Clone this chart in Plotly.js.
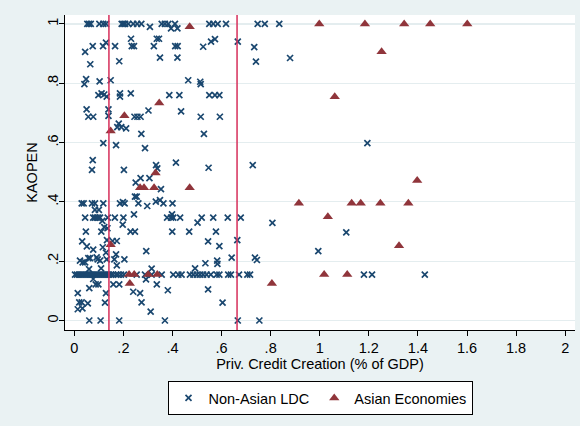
<!DOCTYPE html>
<html>
<head>
<meta charset="utf-8">
<script src="https://cdn.plot.ly/plotly-3.0.1.min.js"></script>
<style>
  html, body { margin: 0; padding: 0; background: #EAF2F3; }
  #chart { width: 580px; height: 426px; }
</style>
</head>
<body>
<div id="chart"></div>
<script>
// Private credit creation (% of GDP) vs. capital account openness (KAOPEN)

// Non-Asian developing countries
const nonAsianCredit = [
  // KAOPEN = 1 row
  0.053, 0.060, 0.067, 0.102, 0.118, 0.129, 0.193, 0.200, 0.207, 0.220, 0.240, 0.256, 0.273,
  0.356, 0.369, 0.383, 0.410, 0.550, 0.566, 0.584, 0.618, 0.747, 0.776, 0.835,
  0.308, 0.394, 0.420,
  // 0.86 - 0.95
  0.044, 0.075, 0.117, 0.129, 0.166, 0.231, 0.234, 0.243, 0.324, 0.336, 0.345, 0.411, 0.421,
  0.525, 0.557, 0.573, 0.666, 0.733,
  0.065, 0.183, 0.349, 0.420, 0.740, 0.879,
  // 0.75 - 0.82
  0.048, 0.041, 0.103, 0.148, 0.464, 0.513, 0.515,
  0.098, 0.111, 0.122, 0.132, 0.186, 0.186, 0.230, 0.387, 0.428, 0.550, 0.573, 0.591,
  // 0.68 - 0.72
  0.050, 0.139, 0.057, 0.077, 0.139, 0.245, 0.257, 0.270, 0.302, 0.435, 0.515, 0.593,
  // 0.5 - 0.67
  0.181, 0.175, 0.191, 0.211, 0.273, 0.528,
  0.118, 0.170, 0.288, 1.194,
  0.075, 0.414, 0.333, 0.338, 0.547, 0.072, 0.202, 0.727,
  // 0.4 - 0.49
  0.270, 0.306, 0.250, 0.353, 0.247, 0.254,
  0.030, 0.038, 0.072, 0.084, 0.118, 0.186, 0.198, 0.205, 0.261, 0.297, 0.332, 0.349, 0.363, 0.400,
  // 0.33 - 0.38
  0.084, 0.100, 0.243, 0.398,
  0.044, 0.077, 0.084, 0.091, 0.098, 0.105, 0.136, 0.165, 0.200, 0.378, 0.394, 0.403, 0.431,
  0.519, 0.566, 0.625, 0.678,
  0.114, 0.197, 0.122, 0.135, 0.502, 0.807, 1.108, 0.994,
  // 0.22 - 0.30
  0.047, 0.110, 0.229, 0.247, 0.399, 0.468, 0.577,
  0.032, 0.133, 0.156, 0.173, 0.545, 0.664,
  0.051, 0.116, 0.591, 0.077, 0.293, 0.129, 0.170,
  // 0.17 - 0.21
  0.023, 0.034, 0.044, 0.057, 0.064, 0.091, 0.095, 0.105, 0.132, 0.163, 0.204,
  0.641, 0.582, 0.583, 0.534, 0.736, 0.744,
  0.173, 0.109, 0.060, 0.315, 0.492,
  // KAOPEN ~ 0.155 row
  0.003, 0.011, 0.019, 0.027, 0.035, 0.044, 0.052, 0.060, 0.068, 0.076, 0.084, 0.092,
  0.101, 0.109, 0.117, 0.125, 0.133, 0.141, 0.149, 0.158, 0.170, 0.178, 0.190, 0.202,
  0.254, 0.288, 0.315, 0.356, 0.403, 0.424, 0.437, 0.471, 0.485, 0.499, 0.512, 0.525,
  0.539, 0.556, 0.580, 0.591, 0.627, 0.638, 0.671, 0.705, 0.716, 1.180, 1.213, 1.428,
  // below 0.15
  0.077, 0.087, 0.098, 0.061, 0.159, 0.183, 0.292, 0.336, 0.240, 0.268, 0.014, 0.129,
  0.381, 0.545, 0.274, 0.020, 0.030, 0.055, 0.125, 0.604, 0.014, 0.033, 0.311,
  0.061, 0.107, 0.183, 0.369, 0.666, 0.754
];
const nonAsianKaopen = [
  1, 1, 1, 1, 1, 1, 1, 1, 1, 1, 1, 1, 1,
  1, 1, 1, 1, 1, 1, 1, 1, 1, 1, 1,
  0.990, 0.985, 0.985,
  0.906, 0.925, 0.925, 0.937, 0.925, 0.950, 0.925, 0.925, 0.925, 0.950, 0.950, 0.925, 0.925,
  0.923, 0.940, 0.949, 0.940, 0.922,
  0.864, 0.874, 0.886, 0.886, 0.873, 0.885,
  0.814, 0.797, 0.806, 0.810, 0.810, 0.805, 0.797,
  0.760, 0.766, 0.762, 0.755, 0.766, 0.755, 0.766, 0.760, 0.760, 0.760, 0.760, 0.760,
  0.712, 0.712, 0.687, 0.687, 0.690, 0.687, 0.687, 0.687, 0.708, 0.705, 0.687, 0.687,
  0.664, 0.652, 0.652, 0.648, 0.629, 0.629,
  0.598, 0.591, 0.581, 0.598,
  0.541, 0.532, 0.524, 0.513, 0.515, 0.508, 0.508, 0.524,
  0.480, 0.480, 0.465, 0.443, 0.418, 0.418,
  0.395, 0.395, 0.395, 0.395, 0.395, 0.395, 0.399, 0.395, 0.395, 0.386, 0.401, 0.406, 0.395, 0.395,
  0.373, 0.373, 0.358, 0.358,
  0.347, 0.347, 0.347, 0.347, 0.347, 0.347, 0.347, 0.347, 0.347, 0.347, 0.347, 0.347, 0.347,
  0.347, 0.347, 0.347, 0.347,
  0.336, 0.323, 0.315, 0.311, 0.330, 0.329, 0.297, 0.234,
  0.300, 0.300, 0.300, 0.300, 0.300, 0.300, 0.300,
  0.267, 0.271, 0.268, 0.268, 0.267, 0.271,
  0.250, 0.247, 0.251, 0.239, 0.234, 0.229, 0.223,
  0.202, 0.196, 0.196, 0.210, 0.210, 0.213, 0.206, 0.202, 0.206, 0.206, 0.206,
  0.212, 0.202, 0.191, 0.193, 0.212, 0.204,
  0.186, 0.176, 0.173, 0.175, 0.176,
  0.155, 0.155, 0.155, 0.155, 0.155, 0.155, 0.155, 0.155, 0.155, 0.155, 0.155, 0.155,
  0.155, 0.155, 0.155, 0.155, 0.155, 0.155, 0.155, 0.155, 0.155, 0.155, 0.155, 0.155,
  0.155, 0.155, 0.155, 0.155, 0.155, 0.155, 0.155, 0.155, 0.155, 0.155, 0.155, 0.155,
  0.155, 0.155, 0.155, 0.155, 0.155, 0.155, 0.155, 0.155, 0.155, 0.155, 0.155, 0.155,
  0.140, 0.122, 0.122, 0.109, 0.122, 0.122, 0.139, 0.122, 0.097, 0.092, 0.092, 0.092,
  0.102, 0.105, 0.061, 0.061, 0.061, 0.058, 0.060, 0.060, 0.038, 0.041, 0.030,
  0, 0, 0, 0, 0, 0
];

// Asian economies
const asianCredit = [
  0.470, 0.998, 1.184, 1.344, 1.450, 1.601,
  1.252, 1.061, 0.346, 0.204, 0.148, 0.331,
  0.268, 0.284, 0.325, 0.470, 1.397,
  0.915, 1.130, 1.167, 1.247, 1.361,
  1.033, 1.323, 0.148,
  0.223, 0.244, 0.301, 0.338, 1.018, 1.112,
  0.805, 0.226
];
const asianKaopen = [
  0.990, 1, 1, 1, 1, 1,
  0.906, 0.754, 0.733, 0.690, 0.639, 0.497,
  0.448, 0.448, 0.448, 0.448, 0.472,
  0.395, 0.395, 0.395, 0.395, 0.395,
  0.350, 0.252, 0.255,
  0.155, 0.155, 0.155, 0.155, 0.155, 0.155,
  0.125, 0.125
];

// Reference levels of private credit creation
const creditThresholds = [0.141, 0.663];

// Axis ticks
const xTickVals = [0, 0.2, 0.4, 0.6, 0.8, 1, 1.2, 1.4, 1.6, 1.8, 2];
const xTickText = ['0', '.2', '.4', '.6', '.8', '1', '1.2', '1.4', '1.6', '1.8', '2'];
const yTickVals = [0, 0.2, 0.4, 0.6, 0.8, 1];
const yTickText = ['0', '.2', '.4', '.6', '.8', '1'];

const seriesNames = ['Non-Asian LDC', 'Asian Economies'];

const FONT = 'Liberation Sans, Arial, Helvetica, sans-serif';
const NAVY = '#1A476F';
const MAROON = '#90353B';
const LINE_RED = '#D62E5A';

const traces = [
  {
    type: 'scatter', mode: 'markers', name: seriesNames[0],
    x: nonAsianCredit, y: nonAsianKaopen,
    marker: { symbol: 'x-thin', size: 6, color: NAVY, line: { color: NAVY, width: 1.7 } },
    hoverinfo: 'x+y'
  },
  {
    type: 'scatter', mode: 'markers', name: seriesNames[1],
    x: asianCredit, y: asianKaopen,
    marker: { symbol: 'triangle-up', size: 9, color: MAROON, line: { width: 0 } },
    hoverinfo: 'x+y'
  }
];

const layout = {
  width: 580, height: 426,
  paper_bgcolor: '#EAF2F3',
  plot_bgcolor: '#FFFFFF',
  margin: { l: 65, r: 5, t: 15, b: 96, pad: 0, autoexpand: false },
  font: { family: FONT, size: 14.5, color: '#000000' },
  showlegend: true,
  legend: {
    orientation: 'h', x: 0.5, xanchor: 'center', y: -0.162, yanchor: 'top',
    bgcolor: '#FFFFFF', bordercolor: '#000000', borderwidth: 1,
    font: { family: FONT, size: 14.5, color: '#000000' },
    itemwidth: 30
  },
  xaxis: {
    range: [-0.038, 2.04],
    tickmode: 'array', tickvals: xTickVals, ticktext: xTickText,
    ticks: 'outside', ticklen: 5, tickwidth: 1, tickcolor: '#000000',
    showline: true, linecolor: '#000000', linewidth: 1,
    showgrid: false, zeroline: false,
    tickfont: { family: FONT, size: 14.5, color: '#000000' },
    title: { text: 'Priv. Credit Creation (% of GDP)', standoff: 2,
             font: { family: FONT, size: 14.5, color: '#000000' } }
  },
  yaxis: {
    range: [-0.032, 1.03],
    tickmode: 'array', tickvals: yTickVals, ticktext: yTickText, tickangle: -90,
    ticklabelstandoff: -5,
    ticks: 'outside', ticklen: 5, tickwidth: 1, tickcolor: '#000000',
    showline: true, linecolor: '#000000', linewidth: 1,
    showgrid: true, gridcolor: '#E4EDEF', gridwidth: 1.2, zeroline: false,
    tickfont: { family: FONT, size: 14.5, color: '#000000' },
    title: { text: 'KAOPEN', standoff: 4,
             font: { family: FONT, size: 14.5, color: '#000000' } }
  },
  shapes: creditThresholds.map(v => ({
    type: 'line', xref: 'x', yref: 'paper',
    x0: v, x1: v, y0: 0, y1: 1,
    line: { color: LINE_RED, width: 1.5 }
  }))
};

Plotly.newPlot('chart', traces, layout, { staticPlot: true, displayModeBar: false });
</script>
</body>
</html>
